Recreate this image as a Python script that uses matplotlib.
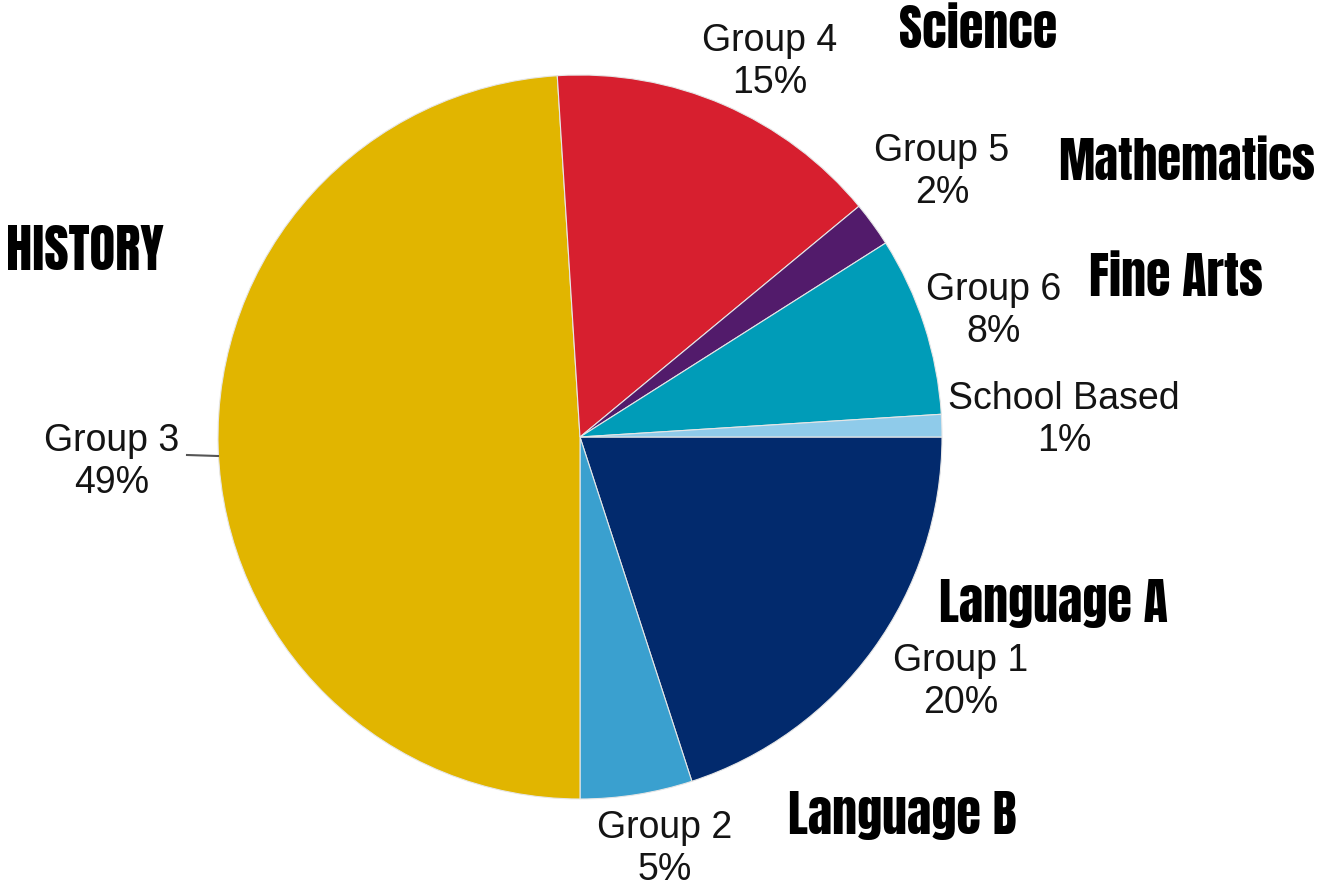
import matplotlib.pyplot as plt
from matplotlib import font_manager

# slice data, clockwise from 3 o'clock
groups = ["Group 1", "Group 2", "Group 3", "Group 4", "Group 5", "Group 6", "School Based"]
shares = [20, 5, 49, 15, 2, 8, 1]
colors = ["#022a6d", "#3aa0cf", "#e1b500", "#d71f2f", "#521b6b", "#009cb8", "#8fcbea"]

# subject names written next to the pie
subjects = ["Language A", "Language B", "HISTORY", "Science", "Mathematics", "Fine Arts"]

installed = {f.name for f in font_manager.fontManager.ttflist}
bold_font = next(f for f in ["Anton", "Impact", "Oswald", "League Gothic", "Fjalla One",
                             "Archivo Narrow", "Roboto Condensed", "DejaVu Sans"]
                 if f in installed)

W, H = 1320, 886

fig = plt.figure(figsize=(W / 100, H / 100), dpi=100)
ax = fig.add_axes([0, 0, 1, 1])

cx, cy, r = 580, H - 437, 362
ax.pie(shares, colors=colors, startangle=0, counterclock=False,
       center=(cx, cy), radius=r,
       wedgeprops=dict(linewidth=0.8, edgecolor="#e6e6e6"))
ax.set_xlim(0, W)
ax.set_ylim(0, H)
ax.set_aspect("equal")
ax.axis("off")

# label positions in pixels (x, y from top)
label_pos = [(961, 682), (665, 849), (112, 462), (770, 62),
             (942, 172), (994, 311), (1064, 420)]
for name, val, (px, py) in zip(groups, shares, label_pos):
    ax.text(px, H - py, f"{name}\n{val}%", ha="center", va="center",
            fontsize=27, color="#141414", family="Liberation Sans",
            linespacing=1.2)

# leader line for Group 3
ax.plot([187, 218], [H - 455, H - 456], color="#555555", lw=1.5)

subj_pos = [(1053, 603), (902, 816), (85, 250), (978, 29), (1187, 162), (1176, 277)]
subj_size = [36, 36, 38, 36, 35, 36]
for s, fs, (px, py) in zip(subjects, subj_size, subj_pos):
    ax.text(px, H - py, s, ha="center", va="center", fontsize=fs,
            color="black", family=bold_font)

fig.savefig("out.png", dpi=100)
